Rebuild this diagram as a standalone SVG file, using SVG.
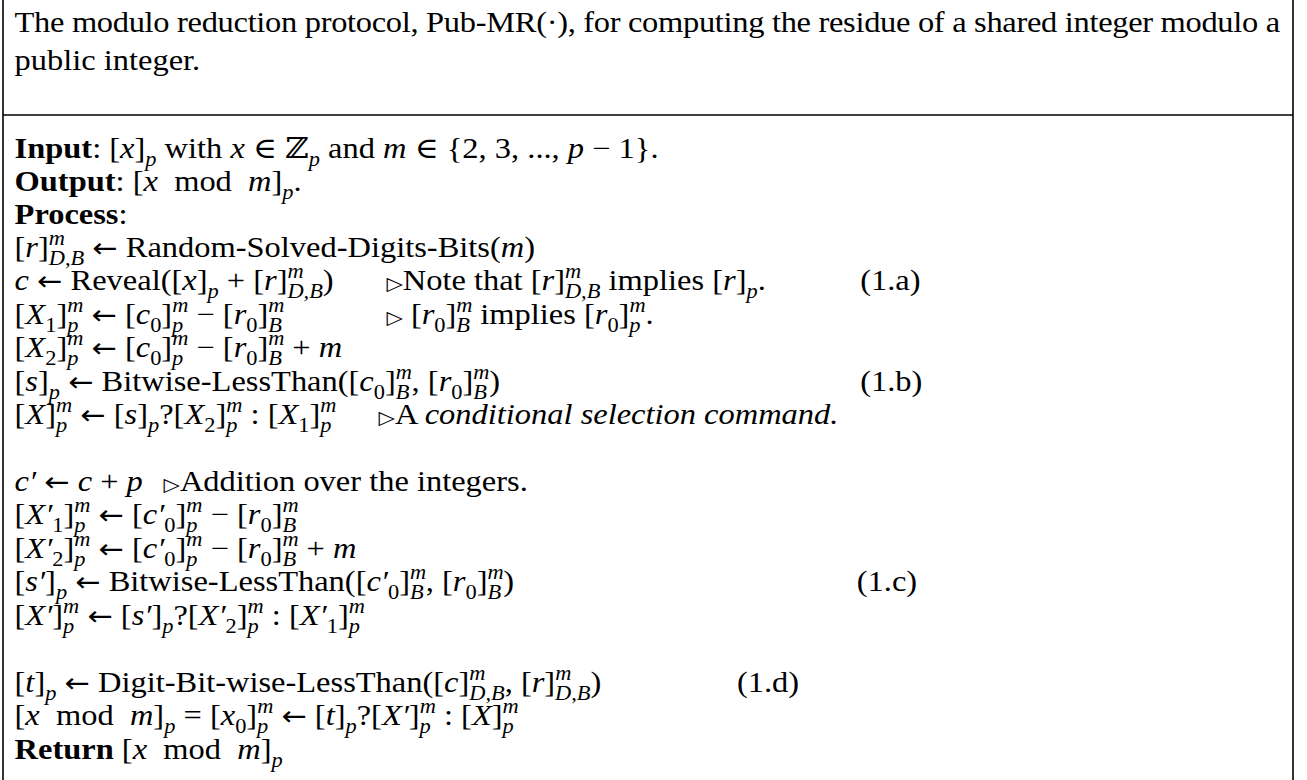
<svg xmlns="http://www.w3.org/2000/svg" width="1307" height="780" viewBox="0 0 1307 780">
<style>
text{font-family:"Liberation Serif","DejaVu Serif",serif;font-size:29px;fill:#000}
.i{font-style:italic}
.b{font-weight:bold}
.s{font-size:20px}
.a{font-family:"DejaVu Sans",sans-serif;font-size:27px}
.tr{font-family:"DejaVu Sans",sans-serif;font-size:19px}
.frame{stroke:#000;stroke-width:1.6;fill:none}
</style>
<rect width="1307" height="780" fill="#fff"/>
<g id="frame">
<line class="frame" x1="3" y1="0" x2="3" y2="780"/>
<line class="frame" x1="1293" y1="0" x2="1293" y2="780"/>
<line class="frame" x1="3" y1="115" x2="1293" y2="115"/>
</g>
<g id="content" transform="scale(1.12 1)">
<g id="caption">
<text x="13" y="32" textLength="1130" lengthAdjust="spacing">The modulo reduction protocol, Pub-MR(·), for computing the residue of a shared integer modulo a</text>
<text x="13" y="70">public integer.</text>
</g>
<g id="io">
<text x="13" y="158"><tspan class="b">Input</tspan>: [<tspan class="i">x</tspan>]<tspan class="s i" dy="8">p</tspan><tspan dy="-8"> with </tspan><tspan class="i">x</tspan> ∈ ℤ<tspan class="s i" dy="8">p</tspan><tspan dy="-8"> and </tspan><tspan class="i">m</tspan> ∈ {2, 3, ..., <tspan class="i">p</tspan> − 1}.</text>
<text x="13" y="191"><tspan class="b">Output</tspan>: [<tspan class="i">x</tspan>&#160; mod &#160;<tspan class="i">m</tspan>]<tspan class="s i" dy="8">p</tspan><tspan dy="-8">.</tspan></text>
<text x="13" y="224"><tspan class="b">Process</tspan>:</text>
</g>
<g id="step-r">
<text x="13" y="257">[<tspan class="i">r</tspan>]<tspan class="s i" dy="-12">m</tspan><tspan class="s i" dx="-14.5" dy="20">D,B</tspan><tspan dy="-8"> </tspan><tspan class="a">←</tspan> Random-Solved-Digits-Bits(<tspan class="i">m</tspan>)</text>
</g>
<g id="step-c">
<text x="13" y="290"><tspan class="i">c</tspan> <tspan class="a">←</tspan> Reveal([<tspan class="i">x</tspan>]<tspan class="s i" dy="8">p</tspan><tspan dy="-8"> + [</tspan><tspan class="i">r</tspan>]<tspan class="s i" dy="-12">m</tspan><tspan class="s i" dx="-14.5" dy="20">D,B</tspan><tspan dy="-8">)</tspan></text>
<text x="345" y="290"><tspan class="tr">▷</tspan>Note that [<tspan class="i">r</tspan>]<tspan class="s i" dy="-12">m</tspan><tspan class="s i" dx="-14.5" dy="20">D,B</tspan><tspan dy="-8"> implies [</tspan><tspan class="i">r</tspan>]<tspan class="s i" dy="8">p</tspan><tspan dy="-8">.</tspan></text>
<text x="768" y="290">(1.a)</text>
</g>
<g id="step-x1">
<text x="13" y="324">[<tspan class="i">X</tspan><tspan class="s" dy="8">1</tspan><tspan dy="-8">]</tspan><tspan class="s i" dy="-12">m</tspan><tspan class="s i" dx="-14.5" dy="20">p</tspan><tspan dx="4.5" dy="-8"> </tspan><tspan class="a">←</tspan> [<tspan class="i">c</tspan><tspan class="s" dy="8">0</tspan><tspan dy="-8">]</tspan><tspan class="s i" dy="-12">m</tspan><tspan class="s i" dx="-14.5" dy="20">p</tspan><tspan dx="4.5" dy="-8"> − [</tspan><tspan class="i">r</tspan><tspan class="s" dy="8">0</tspan><tspan dy="-8">]</tspan><tspan class="s i" dy="-12">m</tspan><tspan class="s i" dx="-14.5" dy="20">B</tspan></text>
<text x="345" y="324"><tspan class="tr">▷</tspan> [<tspan class="i">r</tspan><tspan class="s" dy="8">0</tspan><tspan dy="-8">]</tspan><tspan class="s i" dy="-12">m</tspan><tspan class="s i" dx="-14.5" dy="20">B</tspan><tspan dx="2" dy="-8"> implies [</tspan><tspan class="i">r</tspan><tspan class="s" dy="8">0</tspan><tspan dy="-8">]</tspan><tspan class="s i" dy="-12">m</tspan><tspan class="s i" dx="-14.5" dy="20">p</tspan><tspan dx="4.5" dy="-8">.</tspan></text>
</g>
<g id="step-x2">
<text x="13" y="357">[<tspan class="i">X</tspan><tspan class="s" dy="8">2</tspan><tspan dy="-8">]</tspan><tspan class="s i" dy="-12">m</tspan><tspan class="s i" dx="-14.5" dy="20">p</tspan><tspan dx="4.5" dy="-8"> </tspan><tspan class="a">←</tspan> [<tspan class="i">c</tspan><tspan class="s" dy="8">0</tspan><tspan dy="-8">]</tspan><tspan class="s i" dy="-12">m</tspan><tspan class="s i" dx="-14.5" dy="20">p</tspan><tspan dx="4.5" dy="-8"> − [</tspan><tspan class="i">r</tspan><tspan class="s" dy="8">0</tspan><tspan dy="-8">]</tspan><tspan class="s i" dy="-12">m</tspan><tspan class="s i" dx="-14.5" dy="20">B</tspan><tspan dx="2" dy="-8"> + </tspan><tspan class="i">m</tspan></text>
</g>
<g id="step-s">
<text x="13" y="391">[<tspan class="i">s</tspan>]<tspan class="s i" dy="8">p</tspan><tspan dy="-8"> </tspan><tspan class="a">←</tspan> Bitwise-LessThan([<tspan class="i">c</tspan><tspan class="s" dy="8">0</tspan><tspan dy="-8">]</tspan><tspan class="s i" dy="-12">m</tspan><tspan class="s i" dx="-14.5" dy="20">B</tspan><tspan dx="2" dy="-8">, [</tspan><tspan class="i">r</tspan><tspan class="s" dy="8">0</tspan><tspan dy="-8">]</tspan><tspan class="s i" dy="-12">m</tspan><tspan class="s i" dx="-14.5" dy="20">B</tspan><tspan dx="2" dy="-8">)</tspan></text>
<text x="768" y="391">(1.b)</text>
</g>
<g id="step-x">
<text x="13" y="424">[<tspan class="i">X</tspan>]<tspan class="s i" dy="-12">m</tspan><tspan class="s i" dx="-14.5" dy="20">p</tspan><tspan dx="4.5" dy="-8"> </tspan><tspan class="a">←</tspan> [<tspan class="i">s</tspan>]<tspan class="s i" dy="8">p</tspan><tspan dy="-8">?[</tspan><tspan class="i">X</tspan><tspan class="s" dy="8">2</tspan><tspan dy="-8">]</tspan><tspan class="s i" dy="-12">m</tspan><tspan class="s i" dx="-14.5" dy="20">p</tspan><tspan dx="4.5" dy="-8"> : [</tspan><tspan class="i">X</tspan><tspan class="s" dy="8">1</tspan><tspan dy="-8">]</tspan><tspan class="s i" dy="-12">m</tspan><tspan class="s i" dx="-14.5" dy="20">p</tspan></text>
<text x="338" y="424"><tspan class="tr">▷</tspan>A <tspan class="i">conditional selection command.</tspan></text>
</g>
<g id="step-cp">
<text x="13" y="491"><tspan class="i">c′</tspan> <tspan class="a">←</tspan> <tspan class="i">c</tspan> + <tspan class="i">p</tspan></text>
<text x="146" y="491"><tspan class="tr">▷</tspan>Addition over the integers.</text>
</g>
<g id="step-x1p">
<text x="13" y="524">[<tspan class="i">X′</tspan><tspan class="s" dy="8">1</tspan><tspan dy="-8">]</tspan><tspan class="s i" dy="-12">m</tspan><tspan class="s i" dx="-14.5" dy="20">p</tspan><tspan dx="4.5" dy="-8"> </tspan><tspan class="a">←</tspan> [<tspan class="i">c′</tspan><tspan class="s" dy="8">0</tspan><tspan dy="-8">]</tspan><tspan class="s i" dy="-12">m</tspan><tspan class="s i" dx="-14.5" dy="20">p</tspan><tspan dx="4.5" dy="-8"> − [</tspan><tspan class="i">r</tspan><tspan class="s" dy="8">0</tspan><tspan dy="-8">]</tspan><tspan class="s i" dy="-12">m</tspan><tspan class="s i" dx="-14.5" dy="20">B</tspan></text>
</g>
<g id="step-x2p">
<text x="13" y="558">[<tspan class="i">X′</tspan><tspan class="s" dy="8">2</tspan><tspan dy="-8">]</tspan><tspan class="s i" dy="-12">m</tspan><tspan class="s i" dx="-14.5" dy="20">p</tspan><tspan dx="4.5" dy="-8"> </tspan><tspan class="a">←</tspan> [<tspan class="i">c′</tspan><tspan class="s" dy="8">0</tspan><tspan dy="-8">]</tspan><tspan class="s i" dy="-12">m</tspan><tspan class="s i" dx="-14.5" dy="20">p</tspan><tspan dx="4.5" dy="-8"> − [</tspan><tspan class="i">r</tspan><tspan class="s" dy="8">0</tspan><tspan dy="-8">]</tspan><tspan class="s i" dy="-12">m</tspan><tspan class="s i" dx="-14.5" dy="20">B</tspan><tspan dx="2" dy="-8"> + </tspan><tspan class="i">m</tspan></text>
</g>
<g id="step-sp">
<text x="13" y="591">[<tspan class="i">s′</tspan>]<tspan class="s i" dy="8">p</tspan><tspan dy="-8"> </tspan><tspan class="a">←</tspan> Bitwise-LessThan([<tspan class="i">c′</tspan><tspan class="s" dy="8">0</tspan><tspan dy="-8">]</tspan><tspan class="s i" dy="-12">m</tspan><tspan class="s i" dx="-14.5" dy="20">B</tspan><tspan dx="2" dy="-8">, [</tspan><tspan class="i">r</tspan><tspan class="s" dy="8">0</tspan><tspan dy="-8">]</tspan><tspan class="s i" dy="-12">m</tspan><tspan class="s i" dx="-14.5" dy="20">B</tspan><tspan dx="2" dy="-8">)</tspan></text>
<text x="765" y="591">(1.c)</text>
</g>
<g id="step-xp">
<text x="13" y="625">[<tspan class="i">X′</tspan>]<tspan class="s i" dy="-12">m</tspan><tspan class="s i" dx="-14.5" dy="20">p</tspan><tspan dx="4.5" dy="-8"> </tspan><tspan class="a">←</tspan> [<tspan class="i">s′</tspan>]<tspan class="s i" dy="8">p</tspan><tspan dy="-8">?[</tspan><tspan class="i">X′</tspan><tspan class="s" dy="8">2</tspan><tspan dy="-8">]</tspan><tspan class="s i" dy="-12">m</tspan><tspan class="s i" dx="-14.5" dy="20">p</tspan><tspan dx="4.5" dy="-8"> : [</tspan><tspan class="i">X′</tspan><tspan class="s" dy="8">1</tspan><tspan dy="-8">]</tspan><tspan class="s i" dy="-12">m</tspan><tspan class="s i" dx="-14.5" dy="20">p</tspan></text>
</g>
<g id="step-t">
<text x="13" y="692">[<tspan class="i">t</tspan>]<tspan class="s i" dy="8">p</tspan><tspan dy="-8"> </tspan><tspan class="a">←</tspan> Digit-Bit-wise-LessThan([<tspan class="i">c</tspan>]<tspan class="s i" dy="-12">m</tspan><tspan class="s i" dx="-14.5" dy="20">D,B</tspan><tspan dy="-8">, [</tspan><tspan class="i">r</tspan>]<tspan class="s i" dy="-12">m</tspan><tspan class="s i" dx="-14.5" dy="20">D,B</tspan><tspan dy="-8">)</tspan></text>
<text x="658" y="692">(1.d)</text>
</g>
<g id="step-mod">
<text x="13" y="725">[<tspan class="i">x</tspan>&#160; mod &#160;<tspan class="i">m</tspan>]<tspan class="s i" dy="8">p</tspan><tspan dy="-8"> = [</tspan><tspan class="i">x</tspan><tspan class="s" dy="8">0</tspan><tspan dy="-8">]</tspan><tspan class="s i" dy="-12">m</tspan><tspan class="s i" dx="-14.5" dy="20">p</tspan><tspan dx="4.5" dy="-8"> </tspan><tspan class="a">←</tspan> [<tspan class="i">t</tspan>]<tspan class="s i" dy="8">p</tspan><tspan dy="-8">?[</tspan><tspan class="i">X′</tspan>]<tspan class="s i" dy="-12">m</tspan><tspan class="s i" dx="-14.5" dy="20">p</tspan><tspan dx="4.5" dy="-8"> : [</tspan><tspan class="i">X</tspan>]<tspan class="s i" dy="-12">m</tspan><tspan class="s i" dx="-14.5" dy="20">p</tspan></text>
</g>
<g id="step-return">
<text x="13" y="759"><tspan class="b">Return</tspan> [<tspan class="i">x</tspan>&#160; mod &#160;<tspan class="i">m</tspan>]<tspan class="s i" dy="8">p</tspan></text>
</g>
</g>
</svg>
